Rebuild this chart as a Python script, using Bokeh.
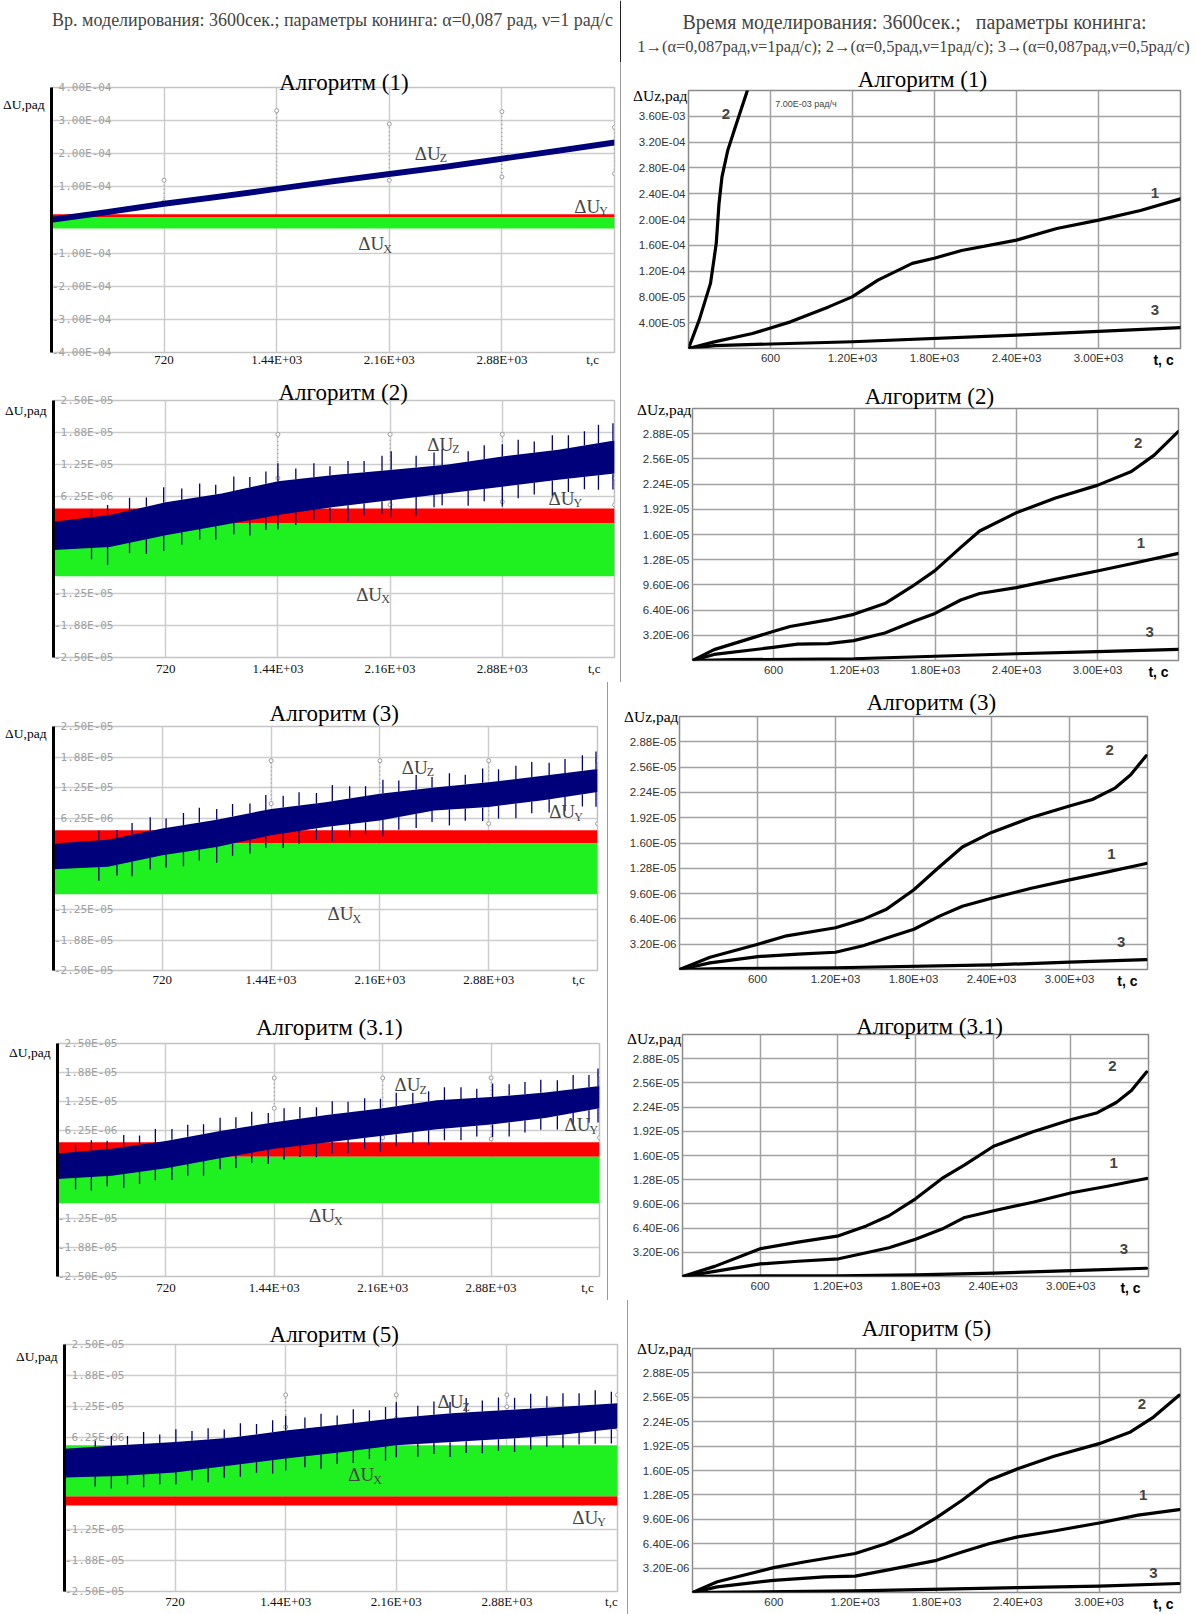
import numpy as np
from bokeh.plotting import figure
from bokeh.models import FixedTicker, Label, Range1d, Spacer, Span, LinearAxis
from bokeh.layouts import column, row
from bokeh.embed import file_html
from bokeh.resources import INLINE

SERIF = "Liberation Serif"
SANS = "Liberation Sans"
MONO = "DejaVu Sans Mono"
NAVY = "#00007a"
RED = "#ff0000"
GREEN = "#1ff01f"

# ------------------------------------------------------------------ data
header_left = "Вр. моделирования: 3600сек.; параметры конинга: α=0,087 рад, ν=1 рад/с"
header_right_1 = "Время моделирования: 3600сек.;\u00a0\u00a0\u00a0параметры конинга:"
header_right_2 = "1→(α=0,087рад,ν=1рад/с); 2→(α=0,5рад,ν=1рад/с); 3→(α=0,087рад,ν=0,5рад/с)"

titles = ["Алгоритм (1)", "Алгоритм (2)", "Алгоритм (3)", "Алгоритм (3.1)", "Алгоритм (5)"]

t_span = [0, 3600]
t_env = [0, 360, 720, 1080, 1440, 1800, 2160, 2520, 2880, 3240, 3600]

L_xticks = [720, 1440, 2160, 2880]
L_xlabels = ["720", "1.44E+03", "2.16E+03", "2.88E+03"]
R_xticks = [600, 1200, 1800, 2400, 3000]
R_xlabels = ["600", "1.20E+03", "1.80E+03", "2.40E+03", "3.00E+03"]

L1_yticks = [-4e-4, -3e-4, -2e-4, -1e-4, 0.0, 1e-4, 2e-4, 3e-4, 4e-4]
L1_ylabels = ["-4.00E-04", "-3.00E-04", "-2.00E-04", "-1.00E-04", "", "1.00E-04", "2.00E-04", "3.00E-04", "4.00E-04"]
L_yticks = [-2.5e-5, -1.875e-5, -1.25e-5, -6.25e-6, 0.0, 6.25e-6, 1.25e-5, 1.875e-5, 2.5e-5]
L_ylabels = ["-2.50E-05", "-1.88E-05", "-1.25E-05", "", "", "6.25E-06", "1.25E-05", "1.88E-05", "2.50E-05"]

R1_yticks = [4e-5, 8e-5, 1.2e-4, 1.6e-4, 2e-4, 2.4e-4, 2.8e-4, 3.2e-4, 3.6e-4]
R1_ylabels = ["4.00E-05", "8.00E-05", "1.20E-04", "1.60E-04", "2.00E-04", "2.40E-04", "2.80E-04", "3.20E-04", "3.60E-03"]
R_yticks = [3.2e-6, 6.4e-6, 9.6e-6, 1.28e-5, 1.6e-5, 1.92e-5, 2.24e-5, 2.56e-5, 2.88e-5]
R_ylabels = ["3.20E-06", "6.40E-06", "9.60E-06", "1.28E-05", "1.60E-05", "1.92E-05", "2.24E-05", "2.56E-05", "2.88E-05"]

# ---- left column: band envelopes (ΔUz blue, ΔUy red, ΔUx green), gray check markers
# Algorithm (1), units 1e-4 rad
L1_z_lo = [-0.08, 0.15, 0.40, 0.62, 0.85, 1.08, 1.30, 1.52, 1.76, 2.00, 2.25]
L1_z_hi = [0.10, 0.33, 0.58, 0.80, 1.03, 1.26, 1.48, 1.70, 1.94, 2.18, 2.43]
L1_y_band = [0.08, 0.17]
L1_x_band = [-0.26, 0.09]
L1_mk_t = [720, 1440, 2160, 2880, 3600]
L1_mk_hi = [1.2, 3.3, 2.9, 3.27, 2.8]
L1_mk_lo = [0.55, 0.9, 1.2, 1.3, 1.4]
# Algorithm (2), units 1e-6 rad
L2_z_lo = [-4.1, -3.5, -1.2, 0.75, 2.7, 4.3, 5.6, 6.9, 8.2, 9.6, 10.8]
L2_z_hi = [1.4, 2.7, 5.2, 6.9, 9.3, 10.5, 11.5, 12.5, 14.1, 15.4, 17.2]
L2_y_band = [1.06, 4.0]
L2_x_band = [-9.2, 1.06]
L2_mk_t = [1440, 2160, 2880, 3600]
L2_mk_hi = [18.4, 18.4, 18.4, 9.9]
L2_mk_lo = [9.9, 4.7, 5.3, 4.7]
L2_spk_t = [244, 347, 488, 596, 707, 823, 938, 1041, 1157, 1260, 1363, 1440, 1555, 1671, 1774, 1890,
            1993, 2108, 2167, 2327, 2442, 2494, 2661, 2764, 2880, 2982, 3085, 3201, 3304, 3407, 3497, 3590]
L2_spk_up = [1.5, 2.0, 2.5, 1.8, 3.0, 2.2, 2.6, 1.9, 2.8, 2.0, 2.4, 3.5, 2.1, 2.7, 1.8, 2.5,
             2.2, 2.9, 3.6, 2.3, 2.6, 3.2, 2.0, 2.7, 2.4, 2.9, 2.2, 3.0, 2.5, 2.8, 3.6, 3.4]
L2_spk_dn = [2.2, 3.5, 2.0, 2.8, 3.0, 2.4, 2.0, 2.6, 2.2, 3.0, 2.5, 2.8, 2.4, 2.0, 2.6, 3.2,
             2.3, 2.5, 3.4, 3.6, 2.4, 2.2, 2.9, 2.4, 3.8, 2.6, 2.3, 3.0, 2.6, 2.4, 2.8, 3.1]
# Algorithm (3)
L3_z_lo = [-4.25, -3.75, -1.4, 0.3, 2.7, 4.4, 5.75, 7.8, 8.5, 9.9, 11.6]
L3_z_hi = [1.0, 1.8, 4.1, 5.9, 8.1, 9.5, 11.2, 12.5, 13.6, 14.9, 16.3]
L3_y_band = [1.0, 3.75]
L3_x_band = [-9.4, 0.9]
L3_mk_t = [1440, 2160, 2880, 3600]
L3_mk_hi = [18.0, 18.0, 18.0, 18.0]
L3_mk_lo = [9.2, 9.2, 5.1, 5.1]
L3_spk_t = [300, 420, 520, 640, 745, 860, 965, 1080, 1185, 1300, 1405, 1520, 1625, 1740, 1845, 1960,
            2065, 2180, 2285, 2400, 2505, 2620, 2725, 2840, 2945, 3060, 3165, 3280, 3385, 3500, 3590]
L3_spk_up = [2.0, 1.6, 2.4, 2.8, 1.9, 2.5, 3.0, 2.2, 2.6, 2.0, 3.1, 2.4, 2.7, 2.1, 3.3, 2.5,
             2.0, 2.8, 2.3, 3.0, 2.2, 2.6, 2.0, 2.9, 2.4, 2.7, 3.1, 2.5, 2.9, 3.2, 3.6]
L3_spk_dn = [2.8, 2.2, 3.0, 2.4, 2.6, 2.9, 2.2, 3.2, 2.5, 2.8, 2.3, 3.0, 2.6, 2.4, 3.1, 2.7,
             2.5, 3.4, 2.6, 2.9, 2.3, 3.3, 2.5, 2.8, 2.6, 3.0, 2.4, 2.7, 2.9, 2.5, 3.0]
# Algorithm (3.1)
L4_z_lo = [-4.1, -3.4, -1.75, 0.4, 2.4, 3.8, 5.2, 6.6, 7.6, 9.0, 11.1]
L4_z_hi = [1.4, 2.4, 4.1, 6.25, 8.1, 9.7, 11.1, 12.8, 13.5, 14.5, 15.9]
L4_y_band = [0.7, 3.8]
L4_x_band = [-9.3, 0.7]
L4_mk_t = [1440, 2160, 2880, 3600]
L4_mk_hi = [17.6, 17.6, 17.6, 18.2]
L4_mk_lo = [11.1, 4.8, 4.5, 4.8]
L4_spk_t = [120, 225, 330, 440, 545, 650, 760, 865, 970, 1080, 1185, 1290, 1400, 1505, 1610, 1720,
            1825, 1930, 2040, 2145, 2250, 2360, 2465, 2570, 2680, 2785, 2890, 3000, 3105, 3210, 3320, 3425, 3530, 3590]
L4_spk_up = [1.5, 2.2, 1.8, 2.6, 2.0, 2.9, 2.3, 2.6, 2.1, 2.8, 2.4, 3.0, 2.2, 2.7, 2.5, 2.0,
             2.8, 2.3, 2.6, 2.1, 2.9, 2.4, 2.2, 2.7, 2.5, 2.0, 2.9, 2.4, 2.6, 2.8, 2.3, 3.0, 2.6, 3.8]
L4_spk_dn = [2.4, 2.9, 2.2, 3.0, 2.6, 2.3, 2.8, 2.5, 3.1, 2.4, 2.7, 2.2, 3.0, 2.6, 2.4, 2.9,
             2.5, 2.8, 2.3, 3.4, 2.6, 2.4, 3.1, 2.5, 2.8, 2.3, 2.7, 3.0, 2.6, 2.4, 2.9, 2.5, 2.7, 3.0]
# Algorithm (5)  (green above red)
L5_z_lo = [-1.9, -1.6, -0.9, 0.5, 1.9, 3.2, 4.6, 5.25, 5.9, 6.75, 8.0]
L5_z_hi = [3.9, 4.6, 5.25, 6.1, 7.6, 8.8, 10.1, 11.1, 11.75, 12.4, 13.1]
L5_y_band = [-7.6, -5.7]
L5_x_band = [-5.7, 4.6]
L5_mk_t = [1440, 2160, 2880, 3600]
L5_mk_hi = [14.8, 14.8, 14.8, 14.8]
L5_mk_lo = [8.3, 10.0, 12.4, 8.0]
L5_spk_t = [200, 305, 410, 515, 620, 725, 830, 935, 1040, 1145, 1250, 1355, 1440, 1565, 1670, 1775,
            1880, 1985, 2090, 2160, 2300, 2405, 2510, 2615, 2720, 2825, 2930, 3035, 3140, 3245, 3350, 3455, 3560]
L5_spk_up = [1.5, 2.0, 1.8, 2.4, 1.7, 2.6, 2.0, 2.3, 1.8, 2.7, 2.1, 2.4, 3.0, 2.2, 2.6, 1.9,
             2.8, 2.2, 2.5, 3.2, 2.1, 2.7, 2.3, 2.9, 2.2, 2.6, 2.4, 3.0, 2.3, 2.7, 2.5, 2.9, 2.4]
L5_spk_dn = [2.0, 2.5, 1.8, 2.6, 2.2, 2.4, 2.0, 2.8, 2.3, 2.5, 2.1, 2.7, 2.4, 2.2, 2.9, 2.3,
             2.5, 2.1, 2.8, 2.4, 2.6, 2.2, 3.0, 2.4, 2.6, 2.3, 2.8, 2.5, 2.2, 2.7, 2.4, 2.6, 2.9]

# ---- right column: ΔUz curves 1,2,3
# Algorithm (1), units 1e-5 rad
R1_c1_t = [0, 189, 468, 746, 1025, 1197, 1386, 1637, 1798, 1999, 2400, 2695, 3001, 3307, 3600]
R1_c1_y = [0, 1.03, 2.32, 4.13, 6.45, 8.0, 10.6, 13.2, 14.0, 15.2, 16.8, 18.6, 19.9, 21.4, 23.2]
R1_c2_t = [0, 78, 161, 189, 203, 223, 245, 287, 342, 426, 445]
R1_c2_y = [0, 4.4, 10.1, 14.2, 16.3, 22.4, 26.6, 30.7, 34.3, 39.7, 41.0]
R1_c3_t = [0, 190, 1200, 2400, 3600]
R1_c3_y = [0, 0.45, 1.05, 2.06, 3.25]
# Algorithm (2), units 1e-6 rad
R2_c1_t = [0, 160, 596, 778, 1003, 1194, 1425, 1650, 1796, 1987, 2127, 2397, 2689, 2998, 3251, 3600]
R2_c1_y = [0, 0.77, 1.66, 2.08, 2.14, 2.53, 3.49, 5.06, 5.98, 7.68, 8.51, 9.25, 10.3, 11.36, 12.29, 13.6]
R2_c2_t = [0, 160, 596, 722, 1003, 1194, 1425, 1621, 1796, 1987, 2127, 2397, 2689, 2998, 3251, 3420, 3600]
R2_c2_y = [0, 1.38, 3.68, 4.32, 5.15, 5.86, 7.23, 9.34, 11.42, 14.37, 16.45, 18.75, 20.64, 22.24, 24.0, 26.08, 29.1]
R2_c3_t = [0, 300, 1194, 2397, 2998, 3600]
R2_c3_y = [0, 0.1, 0.22, 0.86, 1.12, 1.41]
# Algorithm (3)
R3_c1_t = [0, 235, 603, 912, 1200, 1412, 1647, 1803, 2000, 2176, 2400, 2706, 3000, 3294, 3590]
R3_c1_y = [0, 0.83, 1.63, 1.95, 2.18, 3.01, 4.26, 5.09, 6.75, 8.0, 9.02, 10.27, 11.33, 12.35, 13.41]
R3_c2_t = [0, 235, 603, 824, 1200, 1412, 1588, 1803, 2000, 2176, 2400, 2706, 3000, 3176, 3353, 3471, 3590]
R3_c2_y = [0, 1.54, 3.2, 4.26, 5.28, 6.34, 7.58, 10.08, 12.99, 15.49, 17.34, 19.23, 20.67, 21.5, 22.98, 24.64, 27.04]
R3_c3_t = [0, 300, 1200, 2400, 3000, 3590]
R3_c3_y = [0, 0.1, 0.22, 0.58, 0.93, 1.25]
# Algorithm (3.1)
R4_c1_t = [0, 249, 600, 893, 1206, 1420, 1595, 1800, 2005, 2180, 2403, 2707, 3006, 3293, 3585]
R4_c1_y = [0, 0.67, 1.66, 2.02, 2.34, 3.14, 3.81, 4.93, 6.27, 7.81, 8.7, 9.82, 11.07, 11.97, 12.96]
R4_c2_t = [0, 249, 600, 893, 1206, 1420, 1595, 1800, 2005, 2180, 2403, 2707, 3006, 3205, 3351, 3468, 3585]
R4_c2_y = [0, 1.34, 3.68, 4.54, 5.38, 6.69, 8.03, 10.27, 12.96, 14.75, 17.22, 19.14, 20.77, 21.66, 23.01, 24.58, 27.04]
R4_c3_t = [0, 300, 1206, 1800, 2403, 3006, 3585]
R4_c3_y = [0, 0.06, 0.1, 0.22, 0.45, 0.77, 1.09]
# Algorithm (5)
R5_c1_t = [0, 183, 598, 974, 1200, 1425, 1800, 1989, 2187, 2399, 2667, 3000, 3287, 3590]
R5_c1_y = [0, 0.74, 1.6, 2.05, 2.14, 2.91, 4.22, 5.31, 6.4, 7.3, 8.06, 9.12, 10.14, 10.88]
R5_c2_t = [0, 183, 598, 833, 1200, 1425, 1623, 1800, 1989, 2187, 2399, 2667, 3000, 3231, 3401, 3590]
R5_c2_y = [0, 1.41, 3.26, 4.03, 5.12, 6.4, 7.94, 9.82, 12.1, 14.72, 16.22, 17.86, 19.52, 21.06, 23.01, 25.86]
R5_c3_t = [0, 300, 1200, 2399, 3000, 3590]
R5_c3_y = [0, 0.06, 0.22, 0.64, 0.83, 1.18]

# ------------------------------------------------------------------ layout
PAGE_W, SEP_W, HEAD_H = 1197, 1, 62
rows_h = [310, 310, 310, 308, 314]
left_w = [620, 620, 607, 607, 627]
# min borders (left, right, top, bottom)
L_borders = [(50, 6, 25, 20), (53, 6, 28, 25), (53, 10, 44, 22), (57, 8, 51, 24), (64, 10, 44, 23)]
L_xstand = [-1, 3, 1, 3, 2]
R_borders = [(67, 17, 28, 24), (71, 19, 36, 22), (71, 50, 34, 23), (74, 49, 42, 24), (64, 17, 48, 21)]


def base_fig(w, h, b, yr):
    p = figure(width=w, height=h, x_range=Range1d(0, 3600), y_range=Range1d(*yr),
               output_backend="svg", toolbar_location=None,
               min_border_left=b[0], min_border_right=b[1], min_border_top=b[2], min_border_bottom=b[3])
    p.frame_align = False
    p.background_fill_color = "white"
    p.border_fill_color = "white"
    return p


def quiet(a):
    a.axis_line_color = None
    a.major_tick_line_color = None
    a.minor_tick_line_color = None
    a.major_tick_out = 0
    a.major_tick_in = 0
    a.minor_tick_out = 0
    a.minor_tick_in = 0


def add_title(p, i, tx, d):
    # title drawn as a single tick label of an axis above the frame
    ax = LinearAxis(ticker=FixedTicker(ticks=[tx]), major_label_overrides={tx: titles[i]})
    quiet(ax)
    ax.major_label_standoff = int(round(d - 11.5))
    ax.major_label_text_font = SERIF
    ax.major_label_text_font_size = "23px"
    ax.major_label_text_color = "black"
    p.add_layout(ax, "above")


def band_label(p, x, y, sub):
    p.add_layout(Label(x=x, y=y, text="ΔU", text_font=SERIF, text_font_size="19px",
                       text_baseline="middle", text_align="left"))
    p.add_layout(Label(x=x, y=y, x_offset=25, y_offset=-5, text=sub, text_font=SERIF,
                       text_font_size="12px", text_baseline="middle", text_align="left"))


def left_panel(i, yr, yticks, ylabels, scale, z_lo, z_hi, yb, xb, marks, spikes, labs, title_pos, ylab_y, tc_x):
    p = base_fig(left_w[i], rows_h[i], L_borders[i], yr)
    p.outline_line_color = "#c4c4c4"
    p.outline_line_width = 1.5
    for g in (p.xgrid, p.ygrid):
        g.grid_line_color = "#cdcdcd"
        g.grid_line_width = 1.5
    p.xgrid.ticker = FixedTicker(ticks=L_xticks)
    p.ygrid.ticker = FixedTicker(ticks=yticks)
    xa, ya = p.xaxis[0], p.yaxis[0]
    xa.ticker = FixedTicker(ticks=L_xticks + [tc_x])
    xa.major_label_overrides = dict(zip(L_xticks + [tc_x], L_xlabels + ["t,c"]))
    quiet(xa)
    xa.major_label_standoff = L_xstand[i]
    xa.major_label_text_font = SERIF
    xa.major_label_text_font_size = "13px"
    xa.major_label_text_color = "#111"
    ya.ticker = FixedTicker(ticks=yticks)
    ya.major_label_overrides = dict(zip(yticks, ylabels))
    quiet(ya)
    ya.axis_line_color = "black"
    ya.axis_line_width = 3
    ya.major_label_standoff = -60
    ya.major_label_text_font = MONO
    ya.major_label_text_font_size = "11px"
    ya.major_label_text_color = "#a0a0a0"
    # y title as single label of an outer left axis
    ya2 = LinearAxis(ticker=FixedTicker(ticks=[ylab_y]), major_label_overrides={ylab_y: "ΔU,рад"})
    quiet(ya2)
    ya2.major_label_standoff = 4
    ya2.major_label_text_font = SERIF
    ya2.major_label_text_font_size = "13.5px"
    ya2.major_label_text_color = "black"
    p.add_layout(ya2, "left")
    add_title(p, i, *title_pos)

    # gray check markers (dotted verticals with small circles)
    mt, mh, ml = marks
    mh = np.array(mh) * scale
    ml = np.array(ml) * scale
    p.segment(x0=mt, y0=ml, x1=mt, y1=mh, line_color="#9c9c9c", line_width=1.3, line_dash="1 3")
    p.scatter(x=mt + mt, y=list(mh) + list(ml), marker="circle", size=4, fill_color="white",
              line_color="#9c9c9c", line_width=1)

    zl = np.array(z_lo) * scale
    zh = np.array(z_hi) * scale
    p.varea(x=t_span, y1=[yb[0] * scale] * 2, y2=[yb[1] * scale] * 2, fill_color=RED)
    p.varea(x=t_span, y1=[xb[0] * scale] * 2, y2=[xb[1] * scale] * 2, fill_color=GREEN)
    p.varea(x=t_env, y1=zl, y2=zh, fill_color=NAVY)
    if spikes is not None:
        st, su, sd = spikes
        top = np.interp(st, t_env, zh)
        bot = np.interp(st, t_env, zl)
        p.segment(x0=st, y0=top, x1=st, y1=top + np.array(su) * scale, line_color=NAVY, line_width=1.3)
        p.segment(x0=st, y0=bot, x1=st, y1=bot - np.array(sd) * scale, line_color=NAVY, line_width=1.3)
    for (lx, ly, sub) in labs:
        band_label(p, lx, ly, sub)
    return p


def right_panel(i, ymax, yticks, ylabels, scale, curves, labs, title_pos, ylab_y, tc_x, extra=None):
    p = base_fig(PAGE_W - left_w[i] - SEP_W, rows_h[i], R_borders[i], (0, ymax))
    p.outline_line_color = "#8a8a8a"
    p.outline_line_width = 1.5
    for g in (p.xgrid, p.ygrid):
        g.grid_line_color = "#a2a2a2"
        g.grid_line_width = 1.5
    p.xgrid.ticker = FixedTicker(ticks=R_xticks)
    p.ygrid.ticker = FixedTicker(ticks=yticks)
    xa, ya = p.xaxis[0], p.yaxis[0]
    xa.ticker = FixedTicker(ticks=R_xticks)
    xa.major_label_overrides = dict(zip(R_xticks, R_xlabels))
    ya.ticker = FixedTicker(ticks=yticks)
    ya.major_label_overrides = dict(zip(yticks, ylabels))
    for a in (xa, ya):
        quiet(a)
        a.major_label_standoff = 3
        a.major_label_text_font = SANS
        a.major_label_text_font_size = "11.5px"
        a.major_label_text_color = "#333"
    # ΔUz,рад as label of an outer left axis, pulled in next to the frame
    ya2 = LinearAxis(ticker=FixedTicker(ticks=[ylab_y]), major_label_overrides={ylab_y: "ΔUz,рад"})
    quiet(ya2)
    ya2.major_label_standoff = -52
    ya2.major_label_text_font = SERIF
    ya2.major_label_text_font_size = "15.5px"
    ya2.major_label_text_color = "black"
    p.add_layout(ya2, "left")
    # bold "t, c" as label of an outer bottom axis, pulled up to the tick-label row
    xa2 = LinearAxis(ticker=FixedTicker(ticks=[tc_x]), major_label_overrides={tc_x: "t, c"})
    quiet(xa2)
    xa2.major_label_standoff = -15
    xa2.major_label_text_font = SANS
    xa2.major_label_text_font_style = "bold"
    xa2.major_label_text_font_size = "14px"
    xa2.major_label_text_color = "black"
    p.add_layout(xa2, "below")
    add_title(p, i, *title_pos)

    for (ct, cy) in curves:
        p.line(x=ct, y=np.array(cy) * scale, line_color="black", line_width=3.2,
               line_join="round", line_cap="round")
    for (lx, ly, txt) in labs:
        p.add_layout(Label(x=lx, y=ly, text=txt, text_font=SANS, text_font_style="bold",
                           text_font_size="15px", text_align="center", text_baseline="middle"))
    if extra is not None:
        p.add_layout(Label(x=extra[0], y=extra[1], text=extra[2], text_font=SANS,
                           text_font_size="9px", text_align="left", text_baseline="middle"))
    return p


lefts = [
    left_panel(0, (-4e-4, 4e-4), L1_yticks, L1_ylabels, 1e-4, L1_z_lo, L1_z_hi, L1_y_band, L1_x_band,
               (L1_mk_t, L1_mk_hi, L1_mk_lo), None,
               [(2323, 2.02e-4, "Z"), (3343, 0.42e-4, "Y"), (1961, -0.71e-4, "X")],
               (1870, 4.5), 3.5e-4, 3460),
    left_panel(1, (-2.5e-5, 2.5e-5), L_yticks, L_ylabels, 1e-6, L2_z_lo, L2_z_hi, L2_y_band, L2_x_band,
               (L2_mk_t, L2_mk_hi, L2_mk_lo), (L2_spk_t, L2_spk_up, L2_spk_dn),
               [(2398, 1.65e-5, "Z"), (3177, 6.0e-6, "Y"), (1942, -1.27e-5, "X")],
               (1859, 7), 2.31e-5, 3470),
    left_panel(2, (-2.5e-5, 2.5e-5), L_yticks, L_ylabels, 1e-6, L3_z_lo, L3_z_hi, L3_y_band, L3_x_band,
               (L3_mk_t, L3_mk_hi, L3_mk_lo), (L3_spk_t, L3_spk_up, L3_spk_dn),
               [(2305, 1.66e-5, "Z"), (3280, 7.5e-6, "Y"), (1814, -1.34e-5, "X")],
               (1858, 12.5), 2.35e-5, 3474),
    left_panel(3, (-2.5e-5, 2.5e-5), L_yticks, L_ylabels, 1e-6, L4_z_lo, L4_z_hi, L4_y_band, L4_x_band,
               (L4_mk_t, L4_mk_hi, L4_mk_lo), (L4_spk_t, L4_spk_up, L4_spk_dn),
               [(2238, 1.62e-5, "Z"), (3367, 7.6e-6, "Y"), (1670, -1.2e-5, "X")],
               (1805, 15.6), 2.3e-5, 3520),
    left_panel(4, (-2.5e-5, 2.5e-5), L_yticks, L_ylabels, 1e-6, L5_z_lo, L5_z_hi, L5_y_band, L5_x_band,
               (L5_mk_t, L5_mk_hi, L5_mk_lo), (L5_spk_t, L5_spk_up, L5_spk_dn),
               [(2429, 1.34e-5, "Z"), (1847, -1.35e-6, "X"), (3305, -1.0e-5, "Y")],
               (1756, 9), 2.25e-5, 3560),
]

rights = [
    right_panel(0, 4e-4, R1_yticks, R1_ylabels, 1e-5,
                [(R1_c1_t, R1_c1_y), (R1_c2_t, R1_c2_y), (R1_c3_t, R1_c3_y)],
                [(3413, 2.41e-4, "1"), (273, 3.64e-4, "2"), (3413, 0.59e-4, "3")],
                (1712, 10.5), 3.92e-4, 3476, extra=(635, 3.79e-4, "7.00E-03 рад/ч")),
    right_panel(1, 3.2e-5, R_yticks, R_ylabels, 1e-6,
                [(R2_c1_t, R2_c1_y), (R2_c2_t, R2_c2_y), (R2_c3_t, R2_c3_y)],
                [(3322, 4.66 * 3.2e-6, "1"), (3302, 8.64 * 3.2e-6, "2"), (3387, 1.13 * 3.2e-6, "3")],
                (1755, 11), 3.19e-5, 3452),
    right_panel(2, 3.2e-5, R_yticks, R_ylabels, 1e-6,
                [(R3_c1_t, R3_c1_y), (R3_c2_t, R3_c2_y), (R3_c3_t, R3_c3_y)],
                [(3323, 4.58 * 3.2e-6, "1"), (3309, 8.67 * 3.2e-6, "2"), (3397, 1.07 * 3.2e-6, "3")],
                (1938, 13.7), 3.2e-5, 3446),
    right_panel(3, 3.2e-5, R_yticks, R_ylabels, 1e-6,
                [(R4_c1_t, R4_c1_y), (R4_c2_t, R4_c2_y), (R4_c3_t, R4_c3_y)],
                [(3331, 4.68 * 3.2e-6, "1"), (3322, 8.69 * 3.2e-6, "2"), (3410, 1.15 * 3.2e-6, "3")],
                (1908, 7), 3.15e-5, 3461),
    right_panel(4, 3.2e-5, R_yticks, R_ylabels, 1e-6,
                [(R5_c1_t, R5_c1_y), (R5_c2_t, R5_c2_y), (R5_c3_t, R5_c3_y)],
                [(3325, 3.98 * 3.2e-6, "1"), (3316, 7.71 * 3.2e-6, "2"), (3401, 0.78 * 3.2e-6, "3")],
                (1726, 19.7), 3.2e-5, 3474),
]

# header
head = figure(width=PAGE_W, height=HEAD_H, x_range=Range1d(0, PAGE_W), y_range=Range1d(HEAD_H, 0),
              output_backend="svg", toolbar_location=None, min_border=0)
head.axis.visible = False
head.grid.visible = False
head.outline_line_color = None
head.add_layout(Label(x=332, y=19, text=header_left, text_font=SERIF, text_font_size="18px",
                      text_align="center", text_baseline="middle"))
head.add_layout(Label(x=914, y=21, text=header_right_1, text_font=SERIF, text_font_size="20px",
                      text_align="center", text_baseline="middle"))
head.add_layout(Label(x=913, y=46, text=header_right_2, text_font=SERIF, text_font_size="16.5px",
                      text_align="center", text_baseline="middle"))
head.add_layout(Span(location=620, dimension="height", line_color="#222", line_width=1))

rows = [head]
for i in range(5):
    sep = Spacer(width=SEP_W, height=rows_h[i], styles={"background-color": "#9a9a9a"})
    rows.append(row(lefts[i], sep, rights[i], spacing=0))

layout = column(*rows, spacing=0)

html = file_html(layout, INLINE, title="ΔU")
open("out.html", "w").write(html)
